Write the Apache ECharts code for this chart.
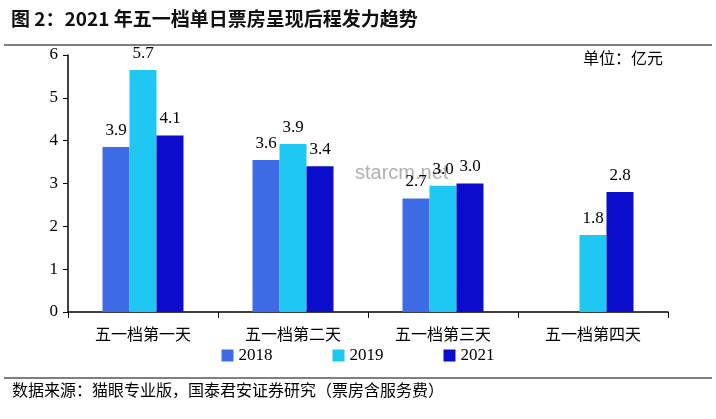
<!DOCTYPE html>
<html><head><meta charset="utf-8">
<script src="https://cdn.jsdelivr.net/npm/echarts@6/dist/echarts.min.js"></script>
<style>html,body{margin:0;padding:0;background:#fff}#c{width:716px;height:419px}</style>
</head><body><div id="c"></div>
<script>
const categories = ['五一档第一天','五一档第二天','五一档第三天','五一档第四天'];
const s2018 = [3.85, 3.55, 2.65, null];
const s2019 = [5.65, 3.92, 2.95, 1.8];
const s2021 = [4.12, 3.4, 3.0, 2.8];
const labels2018 = ['3.9','3.6','2.7',''];
const labels2019 = ['5.7','3.9','3.0','1.8'];
const labels2021 = ['4.1','3.4','3.0','2.8'];
const F = '"Liberation Serif","Noto Sans CJK SC",serif';
const chart = echarts.init(document.getElementById('c'));
function ser(name, data, lab, color){
  return {name, type:'bar', data, barWidth:27, barGap:'0%', itemStyle:{color},
    label:{show:true, position:'top', distance:8, color:'#000', fontFamily:F, fontSize:17,
      formatter:p=>lab[p.dataIndex]}};
}
chart.setOption({
  animation:false,
  title:{text:'图 2：2021 年五一档单日票房呈现后程发力趋势', left:6, top:4,
    textStyle:{fontFamily:'"Noto Sans CJK SC",serif', fontWeight:'bold', fontSize:19, color:'#111'}},
  legend:{bottom:50, itemWidth:12, itemHeight:12, itemGap:60, icon:'rect',
    textStyle:{fontFamily:F, fontSize:17, color:'#000'}},
  grid:{left:68, right:48, top:55, bottom:107},
  xAxis:{type:'category', data:categories, axisLine:{lineStyle:{color:'#000',width:1.5}},
    axisTick:{show:true, length:6, lineStyle:{color:'#000'}},
    axisLabel:{fontFamily:'"Noto Sans CJK SC",serif', fontSize:16, color:'#000', margin:14}},
  yAxis:{type:'value', min:0, max:6, interval:1, splitLine:{show:false},
    axisLine:{show:true, lineStyle:{color:'#000',width:1.5}},
    axisTick:{show:true, length:5, lineStyle:{color:'#000'}},
    axisLabel:{fontFamily:F, fontSize:17, color:'#000', margin:10}},
  series:[ser('2018',s2018,labels2018,'#3D6CE6'), ser('2019',s2019,labels2019,'#1EC8F2'), ser('2021',s2021,labels2021,'#0C0CCC')],
  graphic:[
    {type:'line', shape:{x1:4,y1:45,x2:712,y2:45}, style:{stroke:'#000',lineWidth:1}},
    {type:'line', shape:{x1:4,y1:378,x2:712,y2:378}, style:{stroke:'#000',lineWidth:1}},
    {type:'text', left:583, top:50, style:{text:'单位：亿元', font:'16px "Noto Sans CJK SC"', fill:'#000'}},
    {type:'text', left:355, top:163, style:{text:'starcm.net', font:'20px "Liberation Sans"', fill:'rgba(150,150,150,0.75)'}},
    {type:'text', left:12, top:382, style:{text:'数据来源：猫眼专业版，国泰君安证券研究（票房含服务费）', font:'16px "Noto Sans CJK SC"', fill:'#000'}}
  ]
});
</script></body></html>
